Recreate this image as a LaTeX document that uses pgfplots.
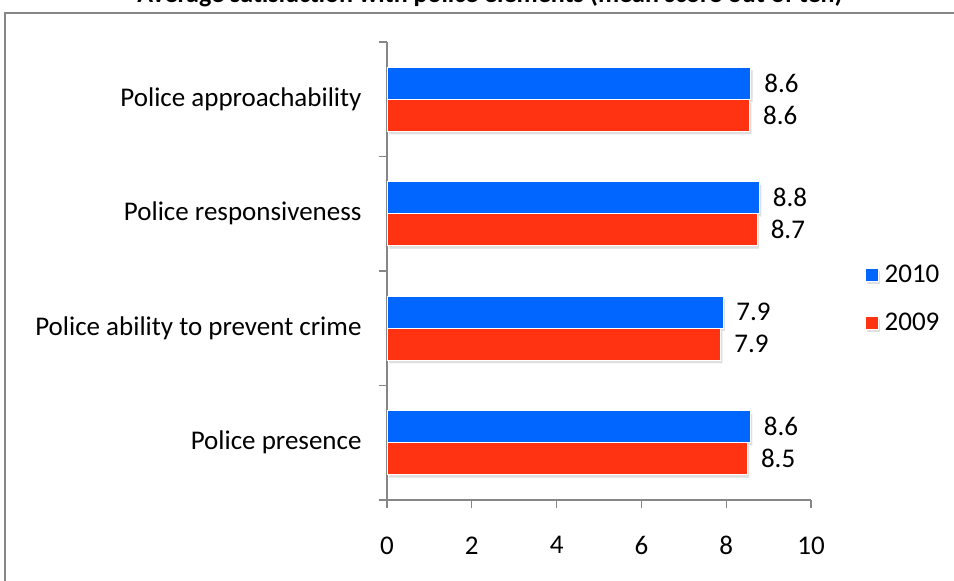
\documentclass[border=0pt]{standalone}
\usepackage{pgfplots}
\pgfplotsset{compat=1.18}
\usepackage{fontspec}
\setmainfont{Carlito}
\usetikzlibrary{shadows}
\definecolor{bblue}{RGB}{0,102,255}
\definecolor{rred}{RGB}{255,51,17}
\definecolor{axgray}{RGB}{134,134,134}
\begin{document}
\begin{tikzpicture}
\useasboundingbox (0,0) rectangle (954bp,581bp);
\clip (0,0) rectangle (954bp,581bp);
\draw[axgray, line width=1.5bp] (5bp,-20bp) rectangle (980bp,568bp);
\node[anchor=base, font=\fontsize{26bp}{30bp}\selectfont\bfseries] at (490bp,578bp) {Average satisfaction with police elements (mean score out of ten)};
\begin{axis}[
  at={(387bp,81bp)}, anchor=south west,
  scale only axis, width=424bp, height=458bp,
  xmin=0, xmax=10, ymin=-0.5, ymax=3.5,
  axis x line=bottom, axis y line=left,
  axis line style={axgray, line width=1.2bp, -},
  xtick={0,2,4,6,8,10},
  ytick={0,1,2,3},
  yticklabels={Police presence, Police ability to prevent crime, Police responsiveness, Police approachability},
  extra y ticks={-0.5,0.5,1.5,2.5,3.5},
  extra y tick labels={},
  major tick length=8bp,
  ytick style={draw=none},
  extra y tick style={ytick style={draw=axgray, line width=1.2bp}},
  xtick style={axgray, line width=1.2bp},
  tick align=outside,
  tick label style={font=\fontsize{27bp}{31bp}\selectfont},
  /pgf/number format/assume math mode=true,
  xticklabel style={yshift=-25bp},
  yticklabel style={xshift=-14bp},
  xbar, bar width=32bp, bar shift=0bp,
  point meta=explicit symbolic,
  nodes near coords,
  every node near coord/.style={anchor=west, xshift=10bp, font=\fontsize{27bp}{31bp}\selectfont, black},
  legend style={at={(1.12,0.44)}, anchor=west, draw=none, fill=none, font=\fontsize{27bp}{31bp}\selectfont, row sep=25bp, /tikz/every odd column/.append style={column sep=4bp}},
  legend cell align=left,
  legend image code/.code={\fill[#1] (0bp,-6.5bp) rectangle (13bp,6.5bp);},
]
\addplot[fill=bblue, draw=white, line width=0.6bp, drop shadow={shadow xshift=2bp, shadow yshift=-3bp, opacity=0.25}] coordinates {
  (8.57,0.14) [8.6]
  (7.92,1.14) [7.9]
  (8.78,2.14) [8.8]
  (8.58,3.14) [8.6]
};
\addlegendentry{2010}
\addplot[fill=rred, draw=white, line width=0.6bp, drop shadow={shadow xshift=2bp, shadow yshift=-3bp, opacity=0.25}] coordinates {
  (8.50,-0.14) [8.5]
  (7.87,0.86) [7.9]
  (8.73,1.86) [8.7]
  (8.55,2.86) [8.6]
};
\addlegendentry{2009}
\end{axis}
\end{tikzpicture}
\end{document}
